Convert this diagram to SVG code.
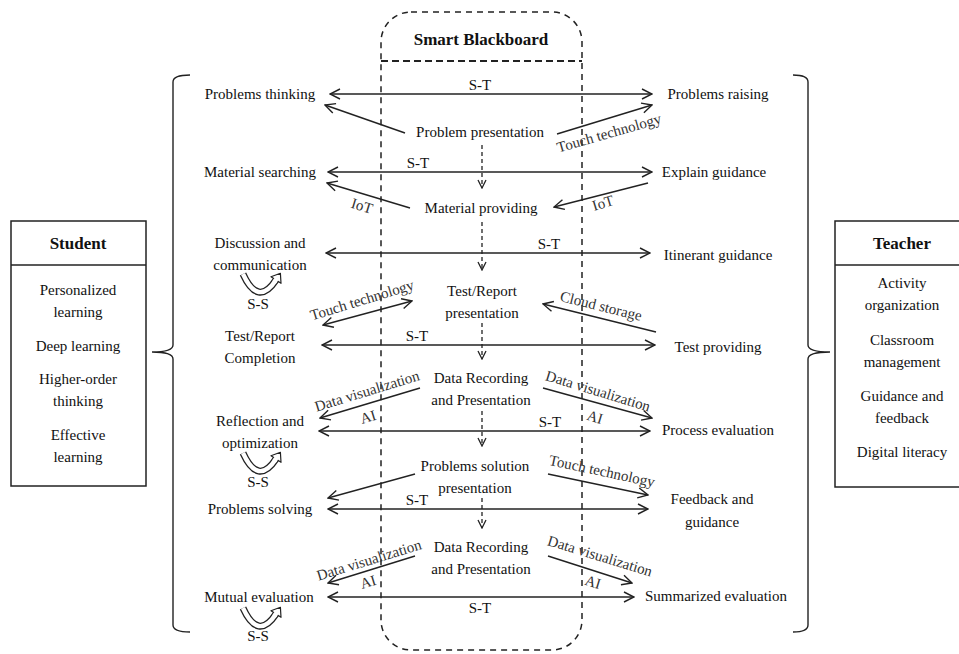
<svg xmlns="http://www.w3.org/2000/svg" width="959" height="654" viewBox="0 0 959 654">
<style>
text{font-family:"Liberation Serif","Times New Roman",serif;font-size:15px;fill:#111;text-anchor:middle}
.b{font-weight:bold;font-size:17px}
.lbl{fill:#333}
.ln{fill:none;stroke:#222;stroke-width:1.4}
.dash{fill:none;stroke:#222;stroke-width:1.3;stroke-dasharray:4,3}
.box{fill:#fff;stroke:#222;stroke-width:1.5}
.brace{fill:none;stroke:#222;stroke-width:1.4}
</style>
<defs>
<marker id="ah" viewBox="0 0 12 12" refX="11" refY="6" markerWidth="12" markerHeight="12" markerUnits="userSpaceOnUse" orient="auto-start-reverse">
<path d="M1,1 L11,6 L1,11" fill="none" stroke="#222" stroke-width="1.4"/>
</marker>
<marker id="ahs" viewBox="0 0 10 10" refX="9" refY="5" markerWidth="10" markerHeight="10" markerUnits="userSpaceOnUse" orient="auto">
<path d="M1,1 L9,5 L1,9" fill="none" stroke="#222" stroke-width="1.3"/>
</marker>
<g id="ss">
<path d="M7,1 Q22,34 40,7" fill="none" stroke="#222" stroke-width="7"/>
<path d="M7,1 Q22,34 40,7" fill="none" stroke="#fff" stroke-width="4.4"/>
<path d="M35,3.7 L44.4,0.3 L45,10.3 Z" fill="#fff" stroke="#222" stroke-width="1.2" stroke-linejoin="round"/>
<path d="M38,9.6 L41.3,4.8" fill="none" stroke="#fff" stroke-width="4.4"/>
</g>
</defs>
<rect width="959" height="654" fill="#fff"/>

<g id="smart-blackboard">
<rect x="381" y="12" width="201" height="638" rx="30" ry="30" fill="none" stroke="#222" stroke-width="1.5" stroke-dasharray="6,5"/>
<line x1="381" y1="61" x2="582" y2="61" stroke="#222" stroke-width="2" stroke-dasharray="7,4"/>
<text class="b" x="481" y="45">Smart Blackboard</text>
</g>

<g id="student">
<rect class="box" x="11" y="221" width="135" height="265"/>
<line x1="11" y1="265" x2="146" y2="265" stroke="#222" stroke-width="1.5"/>
<text class="b" x="78" y="249">Student</text>
<text x="78" y="295">Personalized</text>
<text x="78" y="317">learning</text>
<text x="78" y="351">Deep learning</text>
<text x="78" y="384">Higher-order</text>
<text x="78" y="406">thinking</text>
<text x="78" y="440">Effective</text>
<text x="78" y="462">learning</text>
</g>
<g id="student-brace">
<path class="brace" d="M190,75 Q173,75 173,82 L173,345 Q173,352 152,352 Q173,352 173,359 L173,625 Q173,632 190,632"/>
</g>

<g id="teacher">
<rect class="box" x="835" y="221" width="140" height="266"/>
<line x1="835" y1="265" x2="959" y2="265" stroke="#222" stroke-width="1.5"/>
<text class="b" x="902" y="249">Teacher</text>
<text x="902" y="288">Activity</text>
<text x="902" y="310">organization</text>
<text x="902" y="345">Classroom</text>
<text x="902" y="367">management</text>
<text x="902" y="401">Guidance and</text>
<text x="902" y="423">feedback</text>
<text x="902" y="457">Digital literacy</text>
</g>
<g id="teacher-brace">
<path class="brace" d="M793,75 Q808,75 808,82 L808,345 Q808,352 830,352 Q808,352 808,359 L808,625 Q808,632 793,632"/>
</g>

<g id="n-problems-thinking"><text x="260" y="99">Problems thinking</text></g>
<g id="n-material-searching"><text x="260" y="177">Material searching</text></g>
<g id="n-discussion"><text x="260" y="248">Discussion and</text><text x="260" y="270">communication</text>
<use href="#ss" x="236" y="273"/><text x="258" y="309">S-S</text></g>
<g id="n-test-completion"><text x="260" y="341">Test/Report</text><text x="260" y="363">Completion</text></g>
<g id="n-reflection"><text x="260" y="426">Reflection and</text><text x="260" y="448">optimization</text>
<use href="#ss" x="236" y="452"/><text x="258" y="487">S-S</text></g>
<g id="n-problems-solving"><text x="260" y="514">Problems solving</text></g>
<g id="n-mutual-evaluation"><text x="259" y="602">Mutual evaluation</text>
<use href="#ss" x="236" y="607"/><text x="258" y="641">S-S</text></g>

<g id="n-problem-presentation"><text x="480" y="137">Problem presentation</text></g>
<g id="n-material-providing"><text x="481" y="213">Material providing</text></g>
<g id="n-test-presentation"><text x="482" y="296">Test/Report</text><text x="482" y="318">presentation</text></g>
<g id="n-data-recording-1"><text x="481" y="383">Data Recording</text><text x="481" y="405">and Presentation</text></g>
<g id="n-solution-presentation"><text x="475" y="471">Problems solution</text><text x="475" y="493">presentation</text></g>
<g id="n-data-recording-2"><text x="481" y="552">Data Recording</text><text x="481" y="574">and Presentation</text></g>

<g id="n-problems-raising"><text x="718" y="99">Problems raising</text></g>
<g id="n-explain-guidance"><text x="714" y="177">Explain guidance</text></g>
<g id="n-itinerant-guidance"><text x="718" y="260">Itinerant guidance</text></g>
<g id="n-test-providing"><text x="718" y="352">Test providing</text></g>
<g id="n-process-evaluation"><text x="718" y="435">Process evaluation</text></g>
<g id="n-feedback-guidance"><text x="712" y="504">Feedback and</text><text x="712" y="527">guidance</text></g>
<g id="n-summarized-evaluation"><text x="716" y="601">Summarized evaluation</text></g>

<g id="connectors">
<line class="ln" x1="330" y1="94" x2="652" y2="94" marker-start="url(#ah)" marker-end="url(#ah)"/>
<line class="ln" x1="328" y1="172" x2="652" y2="172" marker-start="url(#ah)" marker-end="url(#ah)"/>
<line class="ln" x1="326" y1="253" x2="650" y2="253" marker-start="url(#ah)" marker-end="url(#ah)"/>
<line class="ln" x1="322" y1="345" x2="655" y2="345" marker-start="url(#ah)" marker-end="url(#ah)"/>
<line class="ln" x1="319" y1="431" x2="650" y2="431" marker-start="url(#ah)" marker-end="url(#ah)"/>
<line class="ln" x1="328" y1="509" x2="648" y2="509" marker-start="url(#ah)" marker-end="url(#ah)"/>
<line class="ln" x1="328" y1="597" x2="634" y2="597" marker-start="url(#ah)" marker-end="url(#ah)"/>

<line class="ln" x1="405" y1="133" x2="325" y2="105" marker-end="url(#ah)"/>
<line class="ln" x1="557" y1="134" x2="652" y2="105" marker-end="url(#ah)"/>
<line class="ln" x1="410" y1="208" x2="327" y2="183" marker-end="url(#ah)"/>
<line class="ln" x1="648" y1="183" x2="554" y2="207" marker-end="url(#ah)"/>
<line class="ln" x1="323" y1="325" x2="412" y2="301" marker-start="url(#ah)" marker-end="url(#ah)"/>
<line class="ln" x1="656" y1="332" x2="543" y2="304" marker-end="url(#ah)"/>
<line class="ln" x1="420" y1="388" x2="320" y2="418" marker-end="url(#ah)"/>
<line class="ln" x1="543" y1="388" x2="652" y2="418" marker-end="url(#ah)"/>
<line class="ln" x1="415" y1="474" x2="328" y2="498" marker-end="url(#ah)"/>
<line class="ln" x1="548" y1="474" x2="648" y2="495" marker-end="url(#ah)"/>
<line class="ln" x1="415" y1="556" x2="328" y2="583" marker-end="url(#ah)"/>
<line class="ln" x1="548" y1="556" x2="632" y2="583" marker-end="url(#ah)"/>

<line class="dash" x1="482" y1="145" x2="482" y2="188" marker-end="url(#ahs)"/>
<line class="dash" x1="482" y1="222" x2="482" y2="270" marker-end="url(#ahs)"/>
<line class="dash" x1="482" y1="323" x2="482" y2="359" marker-end="url(#ahs)"/>
<line class="dash" x1="482" y1="411" x2="482" y2="446" marker-end="url(#ahs)"/>
<line class="dash" x1="482" y1="498" x2="482" y2="528" marker-end="url(#ahs)"/>

<text x="480" y="90">S-T</text>
<text x="418" y="168">S-T</text>
<text x="549" y="249">S-T</text>
<text x="417" y="341">S-T</text>
<text x="550" y="427">S-T</text>
<text x="417" y="505">S-T</text>
<text x="480" y="613">S-T</text>

<text class="lbl" transform="translate(609,133) rotate(-16)" y="5">Touch technology</text>
<text class="lbl" transform="translate(362,206) rotate(17)" y="5">IoT</text>
<text class="lbl" transform="translate(603,203) rotate(-17)" y="5">IoT</text>
<text class="lbl" transform="translate(362,300) rotate(-17)" y="5">Touch technology</text>
<text class="lbl" transform="translate(601,306) rotate(14)" y="5">Cloud storage</text>
<text class="lbl" transform="translate(367,391) rotate(-17)" y="5">Data visualization</text>
<text class="lbl" transform="translate(368,417) rotate(-17)" y="5">AI</text>
<text class="lbl" transform="translate(598,391) rotate(17)" y="5">Data visualization</text>
<text class="lbl" transform="translate(595,417) rotate(17)" y="5">AI</text>
<text class="lbl" transform="translate(602,471) rotate(12)" y="5">Touch technology</text>
<text class="lbl" transform="translate(369,560) rotate(-17)" y="5">Data visualization</text>
<text class="lbl" transform="translate(368,582) rotate(-17)" y="5">AI</text>
<text class="lbl" transform="translate(600,556) rotate(17)" y="5">Data visualization</text>
<text class="lbl" transform="translate(593,582) rotate(17)" y="5">AI</text>
</g>
</svg>
